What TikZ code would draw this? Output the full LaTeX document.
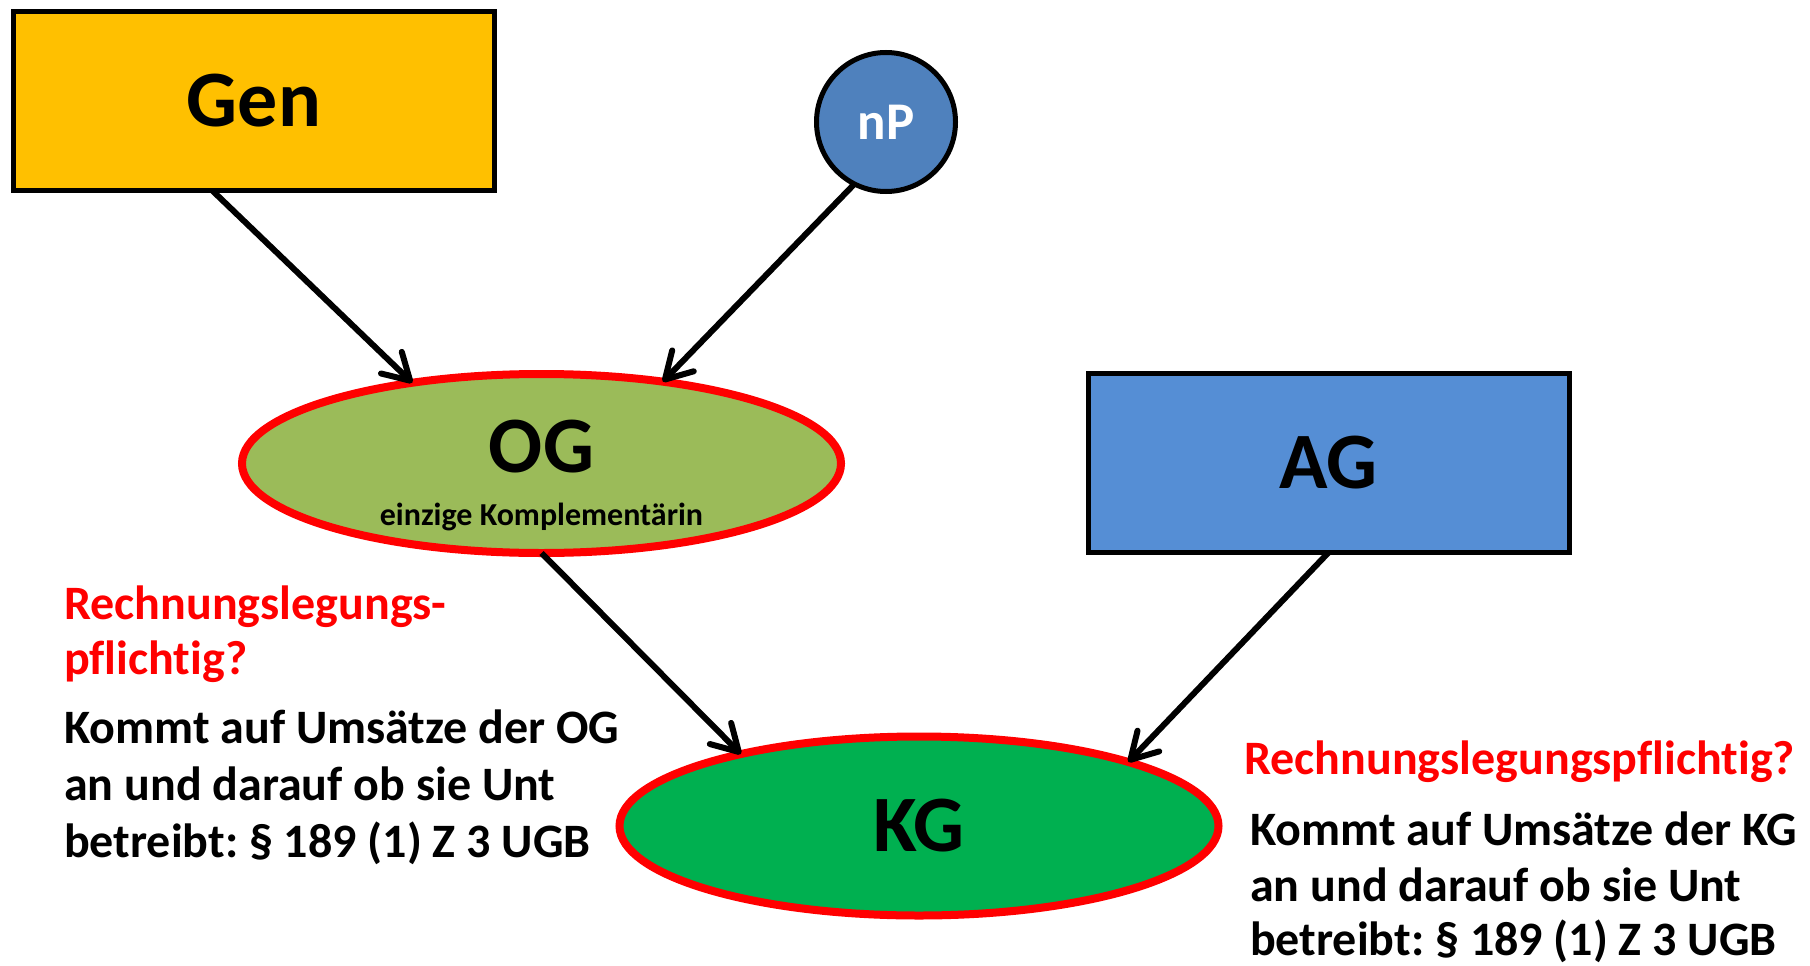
\documentclass[tikz,border=0pt]{standalone}
\usepackage{fontspec}
\setmainfont{Carlito}[Ligatures=NoCommon]
\usetikzlibrary{shapes.geometric}
\usetikzlibrary{arrows.meta}
\definecolor{genfill}{HTML}{FFC000}
\definecolor{npfill}{HTML}{4F81BD}
\definecolor{ogfill}{HTML}{9BBB59}
\definecolor{agfill}{HTML}{558ED5}
\definecolor{kgfill}{HTML}{00B050}
\definecolor{hinweisrot}{HTML}{FF0000}
\frenchspacing

\begin{document}
\begin{tikzpicture}[x=1pt,y=-1pt,
box/.style={rectangle, draw=black, line width=5pt, minimum width=481pt, minimum height=179pt, inner sep=0pt, outer sep=0pt, font=\bfseries\fontsize{80}{92}\selectfont},
oval/.style={ellipse, draw=red, line width=8pt, minimum width=599pt, minimum height=179pt, inner sep=0pt, outer sep=0pt, font=\bfseries\fontsize{80}{92}\selectfont},
bigtext/.style={inner sep=0pt, font=\bfseries\fontsize{80}{92}\selectfont},
note/.style={anchor=base west, inner sep=0pt, font=\bfseries\fontsize{48}{58}\selectfont},
pfeil/.style={line width=6pt, -{Straight Barb[length=26pt,width=30pt,round]}}]
\useasboundingbox (0,0) rectangle (1810,966);
% Gesellschafter
\node[box, fill=genfill] (gen) at (254,101) {Gen};
\node[circle, draw=black, line width=5pt, fill=npfill, minimum size=139pt, inner sep=0pt, outer sep=0pt,
  text=white, font=\bfseries\fontsize{53}{62}\selectfont] (np) at (886,122) {nP};
\node[oval, fill=ogfill] (og) at (541.5,463.5) {};
\node[bigtext] (ogname) at (541.5,447) {OG};
\node[inner sep=0pt, anchor=base, font=\bfseries\fontsize{32}{38}\selectfont] (ogsub) at (541.5,525) {einzige Komplementärin};
\node[box, fill=agfill] (ag) at (1328.5,463) {AG};
\node[oval, fill=kgfill] (kg) at (919,826) {KG};
% Pfeile
\draw[pfeil] (gen.245) -- (og.148);
\draw[pfeil] (np.243) -- (og.34);
\draw[pfeil] (og.south) -- (kg.158);
\draw[pfeil] (ag.south) -- (kg.17);
% Hinweise links
\node[note, text=hinweisrot] (frageL1) at (64,619) {Rechnungslegungs-};
\node[note, text=hinweisrot] (frageL2) at (64,674) {pflichtig?};
\node[note] (textL1) at (64,743) {Kommt auf Umsätze der OG};
\node[note] (textL2) at (64,800) {an und darauf ob sie Unt};
\node[note] (textL3) at (64,857) {betreibt: § 189 (1) Z 3 UGB};
% Hinweise rechts
\node[note, text=hinweisrot] (frageR) at (1244,774) {Rechnungslegungspflichtig?};
\node[note] (textR1) at (1250,845) {Kommt auf Umsätze der KG};
\node[note] (textR2) at (1250,901) {an und darauf ob sie Unt};
\node[note] (textR3) at (1250,955) {betreibt: § 189 (1) Z 3 UGB};
\end{tikzpicture}
\end{document}
